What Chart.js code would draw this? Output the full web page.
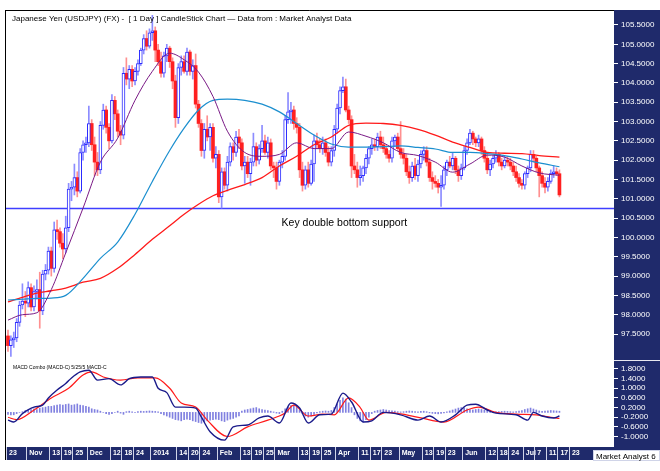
<!DOCTYPE html>
<html>
<head>
<meta charset="utf-8">
<script src="https://cdn.jsdelivr.net/npm/chart.js@4.4.1/dist/chart.umd.min.js"></script>
<style>
  html, body { margin: 0; padding: 0; background: #fff; }
  canvas { display: block; }
</style>
</head>
<body>
<canvas id="myChart" width="660" height="471" style="width:660px;height:471px"></canvas>
<script>
var chartTitle = "Japanese Yen (USDJPY) (FX) -  [ 1 Day ] CandleStick Chart \u2014 Data from : Market Analyst Data";
var macdTitle = "MACD Combo (MACD-C) 5/25/5 MACD-C";
var supportText = "Key double bottom support";
var supportLevel = 100.75;
var footerText = "Market Analyst 6";

// daily candles, 23 Oct 2013 .. 17 Jul 2014 (index = trading day)
var opens = [97.45,97.20,97.35,97.40,97.80,98.25,98.35,98.30,98.70,98.20,
98.60,98.65,98.10,99.05,99.15,99.65,99.20,100.20,100.15,99.85,
99.70,100.25,101.25,101.30,101.55,101.20,102.20,102.40,102.45,102.95,
102.40,101.95,101.75,102.90,103.30,102.85,102.50,103.55,103.20,102.75,
102.65,104.25,104.10,104.35,104.05,104.30,104.50,104.85,105.15,104.95,
105.30,105.35,104.85,104.55,104.25,104.70,104.90,104.55,104.05,103.10,
104.40,104.55,104.30,104.80,104.30,104.45,103.45,102.95,102.25,102.80,
102.60,102.85,102.05,102.15,101.05,101.70,101.35,101.95,102.35,102.20,
102.60,102.45,101.85,101.95,101.65,101.95,102.35,102.00,102.30,102.50,
102.20,102.45,101.85,101.80,101.45,101.95,102.10,103.05,103.25,103.30,
102.95,102.85,101.75,101.35,101.75,101.40,101.90,102.50,102.40,102.30,
102.45,102.20,101.95,102.25,102.80,103.35,103.80,103.90,103.30,103.05,
101.85,101.75,101.55,101.60,101.80,102.05,102.30,102.40,102.35,102.60,
102.40,102.30,102.15,102.05,102.50,102.60,102.30,102.15,102.05,101.70,
101.55,101.85,101.60,101.90,102.15,102.25,101.95,101.55,101.45,101.40,
101.30,101.35,101.75,101.95,101.85,102.05,101.75,101.60,101.80,102.25,
102.45,102.70,102.55,102.45,102.55,102.25,102.05,101.75,101.90,102.05,
102.15,101.95,101.85,102.00,101.95,101.85,101.70,101.55,101.40,101.35,
101.65,101.80,102.15,102.05,101.80,101.60,101.40,101.30,101.45,101.65,
101.70,101.65];
var highs = [97.60,97.45,97.55,97.90,98.35,98.80,98.60,98.85,98.80,98.75,
98.90,99.10,99.15,99.30,99.75,99.75,100.40,100.45,100.25,100.10,
100.55,101.40,101.45,101.90,101.70,102.30,102.50,102.60,103.40,103.05,
102.60,102.20,103.00,103.45,103.40,102.95,103.70,103.65,103.30,102.90,
104.40,104.65,104.45,104.45,104.40,104.60,104.90,105.25,105.35,105.40,
105.75,105.45,105.00,104.80,104.80,105.00,104.95,104.65,104.20,104.50,
104.70,104.70,104.90,104.85,104.60,104.75,103.55,103.05,102.95,103.15,
102.95,102.95,102.35,102.25,101.80,101.80,102.10,102.45,102.45,102.75,
102.80,102.55,102.10,102.10,102.05,102.70,102.45,102.40,102.90,102.65,
102.60,102.55,101.95,101.95,102.00,102.25,103.15,103.75,103.50,103.40,
103.10,102.95,101.95,101.85,101.95,102.00,102.65,102.70,102.55,102.60,
102.55,102.35,102.35,102.90,103.45,103.90,104.15,104.10,103.40,103.15,
102.15,101.95,101.85,101.85,102.15,102.35,102.55,102.55,102.70,102.75,
102.60,102.40,102.25,102.60,102.65,102.70,103.00,102.30,102.15,101.85,
101.95,102.05,102.00,102.25,102.35,102.35,102.05,101.70,101.60,101.50,
101.60,101.85,102.00,102.10,102.20,102.10,101.85,101.90,102.35,102.55,
102.80,102.75,102.60,102.65,102.60,102.35,102.20,102.00,102.10,102.25,
102.20,102.05,102.10,102.10,102.05,101.95,101.85,101.65,101.50,101.70,
101.85,102.25,102.25,102.10,101.85,101.70,101.55,101.55,101.75,101.85,
101.80,101.75];
var lows = [97.05,96.92,97.15,97.30,97.70,98.15,97.95,98.20,98.10,98.10,
98.40,97.65,98.00,98.90,99.05,99.00,99.10,99.95,99.75,99.45,
99.60,100.15,100.95,101.10,101.05,101.15,102.00,102.20,102.35,102.25,
101.60,101.60,101.65,102.80,102.70,102.30,102.45,103.05,102.60,102.40,
102.55,103.95,103.85,103.90,103.95,104.20,104.45,104.75,104.85,104.90,
105.10,104.55,104.45,104.15,104.15,104.55,104.40,103.85,102.85,102.95,
104.20,104.25,104.20,104.20,104.10,103.35,102.85,102.10,102.05,102.50,
102.25,101.95,101.80,100.90,100.76,101.25,101.20,101.85,102.00,102.10,
102.30,101.75,101.40,101.55,101.35,101.85,101.85,101.90,102.20,102.15,
102.05,101.75,101.55,101.25,101.35,101.80,102.00,102.95,102.95,102.80,
102.70,101.55,101.20,101.25,101.30,101.35,101.45,102.30,102.20,102.15,
102.10,101.85,101.85,102.10,102.70,103.20,103.75,103.25,102.95,101.55,
101.65,101.30,101.35,101.45,101.65,101.90,102.15,102.25,102.25,102.30,
102.20,102.05,101.95,101.95,102.35,102.25,102.05,101.90,101.60,101.40,
101.45,101.50,101.45,101.80,102.00,101.85,101.45,101.25,101.30,101.15,
100.80,101.25,101.60,101.80,101.75,101.65,101.45,101.50,101.75,102.15,
102.40,102.40,102.35,102.35,102.15,101.95,101.65,101.60,101.80,101.95,
101.85,101.75,101.80,101.85,101.75,101.60,101.45,101.30,101.25,101.25,
101.55,101.70,101.95,101.70,101.05,101.30,101.15,101.20,101.40,101.55,
101.60,101.05];
var closes = [97.20,97.35,97.40,97.80,98.25,98.35,98.30,98.70,98.20,98.60,
98.65,98.10,99.05,99.15,99.65,99.20,100.20,100.15,99.85,99.70,
100.25,101.25,101.30,101.55,101.20,102.20,102.40,102.45,102.95,102.40,
101.95,101.75,102.90,103.30,102.85,102.50,103.55,103.20,102.75,102.65,
104.25,104.10,104.35,104.05,104.30,104.50,104.85,105.15,104.95,105.30,
105.35,104.85,104.55,104.25,104.70,104.90,104.55,104.05,103.10,104.40,
104.55,104.30,104.80,104.30,104.45,103.45,102.95,102.25,102.80,102.60,
102.85,102.05,102.15,101.05,101.70,101.35,101.95,102.35,102.20,102.60,
102.45,101.85,101.95,101.65,101.95,102.35,102.00,102.30,102.50,102.20,
102.45,101.85,101.80,101.45,101.95,102.10,103.05,103.25,103.30,102.95,
102.85,101.75,101.35,101.75,101.40,101.90,102.50,102.40,102.30,102.45,
102.20,101.95,102.25,102.80,103.35,103.80,103.90,103.30,103.05,101.85,
101.75,101.55,101.60,101.80,102.05,102.30,102.40,102.35,102.60,102.40,
102.30,102.15,102.05,102.50,102.60,102.30,102.15,102.05,101.70,101.55,
101.85,101.60,101.90,102.15,102.25,101.95,101.55,101.45,101.40,101.30,
101.35,101.75,101.95,101.85,102.05,101.75,101.60,101.80,102.25,102.45,
102.70,102.55,102.45,102.55,102.25,102.05,101.75,101.90,102.05,102.15,
101.95,101.85,102.00,101.95,101.85,101.70,101.55,101.40,101.35,101.65,
101.80,102.15,102.05,101.80,101.60,101.40,101.30,101.45,101.65,101.70,
101.65,101.10];

// moving averages at these trading days
var maIdx = [0,5,10,15,20,26,32,38,44,50,56,61,66,71,76,82,88,94,100,106,112,118,124,130,136,142,148,154,160,166,172,178,184,191];
var maShort = [97.86,98.00,98.05,98.65,99.60,100.76,101.95,102.57,103.55,104.30,104.77,104.60,104.28,103.65,102.75,102.20,102.10,102.15,102.45,102.30,102.30,102.73,102.62,102.45,102.20,102.12,101.95,101.69,101.90,102.13,102.08,101.85,101.67,101.61];
var maMid = [98.38,98.40,98.42,98.43,98.50,98.94,99.46,99.88,100.60,101.45,102.25,102.83,103.30,103.55,103.58,103.55,103.45,103.25,102.95,102.65,102.42,102.34,102.34,102.35,102.37,102.33,102.29,102.20,102.20,102.17,102.12,102.03,101.93,101.83];
var maLong = [98.33,98.45,98.56,98.62,98.69,98.84,98.94,99.20,99.56,99.95,100.30,100.60,100.86,101.08,101.22,101.37,101.55,101.85,102.10,102.40,102.60,102.90,102.96,102.95,102.90,102.80,102.65,102.47,102.33,102.20,102.18,102.17,102.12,102.08];

// MACD panel
var macdIdx = [0,2,5,9,12,14,17,20,22,25,28,31,35,39,42,46,50,52,55,58,61,65,67,70,75,78,83,87,90,94,98,101,104,108,112,116,119,123,126,130,136,142,146,150,155,159,162,166,169,176,180,182,185,189,191];
var macdLine = [-0.32,-0.40,-0.05,0.22,0.30,0.60,0.93,1.20,1.43,1.68,1.75,1.34,1.40,1.14,1.40,1.47,1.47,1.00,0.82,0.22,0.22,0.18,-0.20,-0.80,-1.15,-0.60,-0.52,-0.23,-0.15,-0.44,0.39,0.18,-0.44,-0.10,-0.07,0.80,0.43,-0.40,-0.35,0.00,-0.10,-0.32,-0.15,-0.40,-0.10,0.30,0.34,0.10,-0.03,-0.10,-0.32,0.00,-0.15,-0.23,-0.15];
var signalIdx = [0,3,9,15,21,26,29,33,39,45,51,56,60,65,69,76,83,90,96,99,104,109,113,118,122,125,131,138,143,151,159,163,169,176,183,188,191];
var signalLine = [-0.20,-0.30,0.10,0.60,1.00,1.55,1.68,1.47,1.34,1.43,1.43,1.00,0.39,0.22,-0.32,-1.00,-0.60,-0.32,-0.03,0.30,-0.15,-0.07,-0.10,0.60,0.20,-0.32,0.00,-0.10,-0.23,-0.40,0.10,0.22,0.00,-0.07,-0.10,-0.20,-0.25];
var histogram = [-0.08,-0.10,-0.10,-0.05,0.00,0.03,
0.08,0.10,0.12,0.15,0.12,0.18,0.20,0.22,0.25,
0.25,0.28,0.30,0.32,0.30,0.33,0.35,0.30,0.32,0.35,0.30,0.28,0.25,0.22,
0.15,0.12,0.10,0.05,0.00,-0.05,-0.08,-0.05,0.00,0.05,-0.03,-0.08,0.03,0.05,0.02,0.00,0.03,0.05,0.04,
0.05,0.06,0.05,0.04,0.02,-0.05,-0.10,-0.15,
-0.20,-0.25,-0.30,-0.32,-0.35,-0.30,-0.28,-0.30,-0.35,-0.38,-0.42,-0.45,-0.38,-0.35,-0.32,-0.30,-0.28,
-0.30,-0.35,-0.38,-0.32,-0.28,-0.25,-0.20,-0.15,
0.05,0.10,0.12,0.15,0.18,0.20,0.15,0.12,0.10,0.08,0.05,0.02,-0.03,-0.05,0.05,
0.15,0.22,0.28,0.30,0.25,
0.10,-0.05,-0.15,-0.20,-0.15,-0.08,-0.02,0.03,
0.05,0.06,0.05,0.08,
0.20,0.35,0.50,0.60,0.55,0.40,0.20,
-0.10,-0.25,-0.35,-0.40,-0.30,-0.20,
-0.05,0.05,0.08,0.10,0.12,0.10,0.08,0.06,0.05,0.03,
0.02,0.03,0.05,0.06,0.05,0.03,0.02,0.04,0.05,0.03,
-0.02,-0.04,-0.05,-0.06,-0.04,-0.02,0.02,
0.06,0.10,0.14,0.18,0.20,0.18,0.15,0.12,
0.10,0.12,0.14,0.12,0.10,0.08,0.05,0.03,
0.02,0.03,0.04,0.05,0.04,0.03,0.02,0.03,0.05,0.08,
0.12,0.15,0.18,0.14,0.10,0.06,
0.04,0.05,0.06,0.08,0.07,0.06,0.05];

// axis labels
var dateTickIdx = [0,7,15,19,23,28,36,40,44,50,59,63,67,73,81,85,89,93,101,105,109,114,122,126,130,136,144,148,152,158,166,170,174,179,183,187,191,195];
var dateTickText = ['23','Nov','13','19','25','Dec','12','18','24','2014','14','20','24','Feb','13','19','25','Mar','13','19','25','Apr','11','17','23','May','13','19','23','Jun','12','18','24','Jul','7','11','17','23'];
var priceTicks = [97.5,98,98.5,99,99.5,100,100.5,101,101.5,102,102.5,103,103.5,104,104.5,105,105.5];
var macdTicks = [1.8,1.4,1.0,0.6,0.2,-0.2,-0.6,-1.0];

var navy = '#1f2a6b';
var fontFamily = "'Liberation Sans', Arial, sans-serif";
Chart.defaults.font.family = fontFamily;

var wickUp = [], wickDown = [], bodyUp = [], bodyDown = [];
for (var i = 0; i < closes.length; i++) {
  var hi = Math.max(opens[i], closes[i]);
  var lo = Math.min(opens[i], closes[i]);
  if (hi - lo < 0.02) hi = lo + 0.02;
  if (closes[i] >= opens[i]) {
    wickUp.push({ x: i, y: [lows[i], highs[i]] });
    bodyUp.push({ x: i, y: [lo, hi] });
  } else {
    wickDown.push({ x: i, y: [lows[i], highs[i]] });
    bodyDown.push({ x: i, y: [lo, hi] });
  }
}

var points = function (idx, vals) {
  return idx.map(function (x, k) { return { x: x, y: vals[k] }; });
};

var lineSet = function (label, data, color, width, axis) {
  return {
    type: 'line', label: label, data: data, yAxisID: axis,
    borderColor: color, borderWidth: width, pointRadius: 0,
    cubicInterpolationMode: 'monotone', fill: false, order: 1
  };
};

var tickText = {};
dateTickIdx.forEach(function (v, k) { tickText[v] = dateTickText[k]; });

var rightAxis = function (lo, hi, weight, values) {
  return {
    position: 'right', stack: 'panels', stackWeight: weight,
    min: lo, max: hi,
    border: { display: false },
    grid: { drawOnChartArea: false, color: '#ffffff', tickLength: 4 },
    afterFit: function (s) { s.width = 46; },
    afterBuildTicks: function (s) { s.ticks = values.map(function (v) { return { value: v }; }); },
    ticks: {
      autoSkip: false, color: '#ffffff', padding: 3, font: { size: 8 },
      callback: function (v) { return v.toFixed(4); }
    }
  };
};

var framePlugin = {
  id: 'frame',
  beforeDraw: function (chart) {
    var c = chart.ctx, a = chart.chartArea, xs = chart.scales.x;
    c.save();
    c.fillStyle = '#ffffff';
    c.fillRect(0, 0, chart.width, chart.height);
    c.fillStyle = navy;
    c.fillRect(a.right, a.top, chart.width - a.right, a.bottom - a.top);
    c.fillRect(a.left, a.bottom, chart.width - a.left, xs.bottom - a.bottom);
    c.restore();
  },
  beforeDatasetsDraw: function (chart) {
    var c = chart.ctx, a = chart.chartArea;
    var y = Math.round(chart.scales.y.getPixelForValue(supportLevel)) + 0.5;
    c.save();
    c.strokeStyle = '#3f3fff';
    c.lineWidth = 1.5;
    c.beginPath();
    c.moveTo(a.left, y);
    c.lineTo(a.right, y);
    c.stroke();
    c.restore();
  },
  afterDraw: function (chart) {
    var c = chart.ctx, a = chart.chartArea, xs = chart.scales.x, ys = chart.scales.y;
    c.save();
    // frame
    c.strokeStyle = '#000000';
    c.lineWidth = 1;
    c.beginPath();
    c.moveTo(a.left - 0.5, a.top + 0.5);
    c.lineTo(a.right, a.top + 0.5);
    c.moveTo(a.left - 0.5, a.top);
    c.lineTo(a.left - 0.5, xs.bottom);
    c.stroke();
    // panel divider in the axis column
    c.strokeStyle = '#e8e8f0';
    c.beginPath();
    c.moveTo(a.right, Math.round(ys.bottom) + 0.5);
    c.lineTo(chart.width, Math.round(ys.bottom) + 0.5);
    c.stroke();
    // date separators
    c.strokeStyle = '#d0d4e8';
    c.beginPath();
    dateTickIdx.forEach(function (v) {
      var px = Math.round(xs.getPixelForValue(v)) - 1.5;
      c.moveTo(px, a.bottom);
      c.lineTo(px, xs.bottom);
    });
    c.stroke();
    // texts
    c.fillStyle = '#000000';
    c.textBaseline = 'alphabetic';
    c.font = '8px ' + fontFamily;
    c.fillText(chartTitle, 12, 21);
    c.font = '5px ' + fontFamily;
    c.fillText(macdTitle, 13, 369);
    c.font = '10.5px ' + fontFamily;
    c.textAlign = 'center';
    c.fillText(supportText, xs.getPixelForValue(116.5), ys.getPixelForValue(supportLevel) + 18);
    // footer box
    c.textAlign = 'left';
    c.fillStyle = '#ffffff';
    c.fillRect(593.5, 450.5, 66, 10);
    c.strokeRect(593.5, 450.5, 66, 10);
    c.fillStyle = '#000000';
    c.font = '8px ' + fontFamily;
    c.fillText(footerText, 596, 459);
    c.restore();
  }
};

var ctx = document.getElementById('myChart');
var myChart = new Chart(ctx, {
  type: 'bar',
  data: {
    datasets: [
      lineSet('MA short', points(maIdx, maShort), '#7a1a86', 1, 'y'),
      lineSet('MA mid', points(maIdx, maMid), '#1b8fcf', 1.2, 'y'),
      lineSet('MA long', points(maIdx, maLong), '#ff1a1a', 1.3, 'y'),
      lineSet('MACD', points(macdIdx, macdLine), '#1a1a8a', 1.4, 'm'),
      lineSet('Signal', points(signalIdx, signalLine), '#ff1a1a', 1.2, 'm'),
      { label: 'wick up', data: wickUp, backgroundColor: '#8c8cff', barThickness: 1, grouped: false, order: 10 },
      { label: 'wick down', data: wickDown, backgroundColor: '#ff9090', barThickness: 1, grouped: false, order: 10 },
      { label: 'up', data: bodyUp, backgroundColor: '#ffffff', borderColor: '#2b2bff', borderWidth: 1, borderSkipped: false, barThickness: 3, grouped: false, order: 5 },
      { label: 'down', data: bodyDown, backgroundColor: '#ff2020', borderWidth: 0, barThickness: 3, grouped: false, order: 5 },
      { label: 'histogram', yAxisID: 'm', data: histogram.map(function (v, k) { return { x: k, y: v }; }), backgroundColor: '#8080e0', barThickness: 1, grouped: false, order: 8 }
    ]
  },
  options: {
    responsive: false,
    animation: false,
    devicePixelRatio: 1,
    events: [],
    layout: { padding: { top: 10, left: 6, right: 0, bottom: 11 } },
    plugins: { legend: { display: false }, tooltip: { enabled: false } },
    scales: {
      x: {
        type: 'linear', min: -0.69, max: 209.9, offset: false,
        grid: { display: false, drawTicks: false, tickLength: 0 }, border: { display: false },
        afterFit: function (s) { s.height = 13; },
        afterBuildTicks: function (s) { s.ticks = dateTickIdx.map(function (v) { return { value: v }; }); },
        ticks: {
          autoSkip: false, maxRotation: 0, minRotation: 0, align: 'start', labelOffset: 1, padding: 2,
          color: '#ffffff', font: { size: 7, weight: 'bold' },
          callback: function (v) { return tickText[v]; }
        }
      },
      y: rightAxis(96.827, 105.888, 350, priceTicks),
      m: rightAxis(-1.435, 2.173, 87, macdTicks)
    }
  },
  plugins: [framePlugin]
});
</script>
</body>
</html>
